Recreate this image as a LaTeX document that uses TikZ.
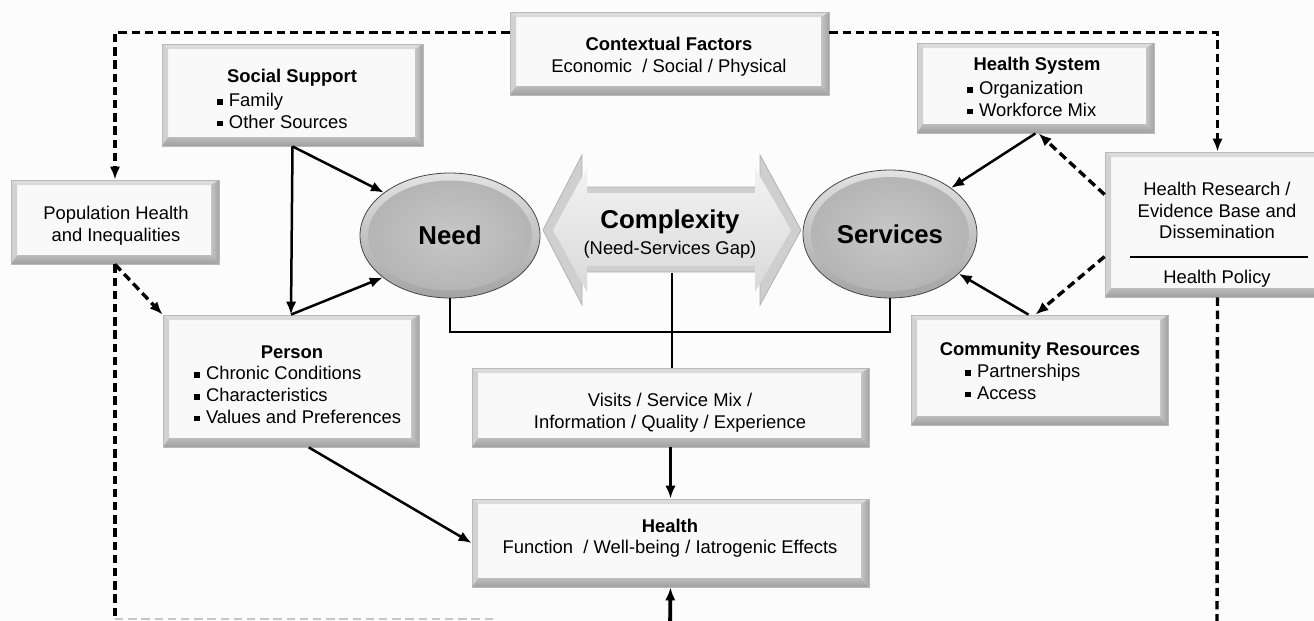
\documentclass[tikz,border=0pt]{standalone}
\usepackage{fontspec}
\setmainfont{Liberation Sans}
\usetikzlibrary{arrows.meta,calc,shapes.geometric}

% small square bullet used in the lists
\newcommand\sqb{\rule[1pt]{2.8pt}{2.8pt}\hspace{3pt}}

% bevelled panel given by its corners (in px): name, x1, y1, x2, y2
\newcommand\bevelbox[5]{%
  \pgfmathsetmacro\panelW{(#4-#2)*0.5}%
  \pgfmathsetmacro\panelH{(#5-#3)*0.5}%
  \node[panel, minimum width=\panelW pt, minimum height=\panelH pt]
    (#1) at ({(#2+#4)/2},{(#3+#5)/2}) {};%
}

\begin{document}
\begin{tikzpicture}[x=0.5pt,y=-0.5pt,
  txt/.style={font=\fontsize{9.2pt}{10.8pt}\selectfont, inner sep=0pt},
  ttl/.style={font=\fontsize{9.2pt}{10.8pt}\selectfont\bfseries, inner sep=0pt},
  big/.style={font=\fontsize{12.9pt}{14pt}\selectfont\bfseries, inner sep=0pt},
  panel/.style={draw=gray!55, line width=0.4pt, fill=gray!5, inner sep=0pt,
    path picture={
      \path (path picture bounding box.north west) coordinate (q1)
            (path picture bounding box.north east) coordinate (q2)
            (path picture bounding box.south east) coordinate (q3)
            (path picture bounding box.south west) coordinate (q4);
      \path ([shift={(3pt,-2.5pt)}]q1) coordinate (r1)
            ([shift={(-4pt,-2.5pt)}]q2) coordinate (r2)
            ([shift={(-4pt,4.5pt)}]q3) coordinate (r3)
            ([shift={(3pt,4.5pt)}]q4) coordinate (r4);
      \fill[gray!28] (q1)--(q2)--(r2)--(r1)--cycle;
      \fill[gray!36] (q1)--(r1)--(r4)--(q4)--cycle;
      \shade[left color=gray!45, right color=gray!72] (q2)--(q3)--(r3)--(r2)--cycle;
      \shade[top color=gray!52, bottom color=gray!75] (q4)--(r4)--(r3)--(q3)--cycle;
    }},
  orb/.style={ellipse, draw=gray!55!black, line width=0.4pt, inner sep=0pt,
    top color=gray!22, bottom color=gray!72,
    font=\fontsize{12.9pt}{14pt}\selectfont\bfseries},
  link/.style={line width=1.25pt, draw=black},
  dlink/.style={line width=1.7pt, draw=black, dash pattern=on 4.2pt off 2.4pt},
  arr/.style={-{Latex[length=6.5pt,width=5.2pt]}}
]
\useasboundingbox (0,0) rectangle (1314,621);
\clip (0,0) rectangle (1314,621);
\fill[gray!2] (0,0) rectangle (1314,621);

% ---------- panels ----------
\bevelbox{ctx}{510}{12}{829}{95}
\node[ttl] (ctxT) at (669,44) {Contextual Factors};
\node[txt] (ctxS) at (669,68) {Economic~~/ Social / Physical};

\bevelbox{soc}{162}{44}{423}{146}
\node[ttl] (socT) at (292,78) {Social Support};
\node[txt, align=left, anchor=west] (socL) at (217,111) {\sqb Family\\\sqb Other Sources};

\bevelbox{hs}{917}{43}{1154}{133}
\node[ttl] (hsT) at (1037,66) {Health System};
\node[txt, align=left, anchor=west] (hsL) at (967,99) {\sqb Organization\\\sqb Workforce Mix};

\bevelbox{pop}{11}{180}{219}{264}
\node[txt, align=center] (popT) at (116,225.5) {Population Health\\and Inequalities};

\bevelbox{hr}{1105}{152}{1330}{297}
\node[txt, align=center] (hrT) at (1217,210.5) {Health Research /\\Evidence Base and\\Dissemination};
\draw[line width=1pt] (1130,257) -- (1308,257);
\node[txt] (hrP) at (1217,279) {Health Policy};

\bevelbox{person}{163}{315}{419}{447}
\node[ttl] (personT) at (292,352) {Person};
\node[txt, align=left, anchor=west] (personL) at (194,395) {\sqb Chronic Conditions\\\sqb Characteristics\\\sqb Values and Preferences};

\bevelbox{visits}{472}{368}{869}{447}
\node[txt, align=center] (visitsT) at (670,413) {Visits / Service Mix /\\Information / Quality / Experience};

\bevelbox{health}{472}{499}{869}{587}
\node[ttl] (healthT) at (670,526) {Health};
\node[txt] (healthS) at (670,549) {Function~~/ Well-being / Iatrogenic Effects};

\bevelbox{comm}{911}{315}{1168}{425}
\node[ttl] (commT) at (1040,351) {Community Resources};
\node[txt, align=left, anchor=west] (commL) at (965,382) {\sqb Partnerships\\\sqb Access};

% ---------- need and services ----------
\node[orb, minimum width=90pt, minimum height=62.5pt,
  path picture={\shade[inner color=gray!44, outer color=gray!60]
    (path picture bounding box.center) ellipse [x radius=41pt, y radius=27.5pt];}]
  (need) at (450,235.5) {Need};
\node[orb, minimum width=87pt, minimum height=64pt,
  path picture={\shade[inner color=gray!44, outer color=gray!60]
    (path picture bounding box.center) ellipse [x radius=39.5pt, y radius=28.5pt];}]
  (serv) at (890,234) {Services};

% ---------- complexity double arrow ----------
\filldraw[fill=gray!38, draw=gray!60, line width=0.4pt]
  (543,230) -- (582,155) -- (582,187) -- (760,187) -- (760,155) -- (801,230)
  -- (760,305) -- (760,272) -- (582,272) -- (582,305) -- cycle;
\shade[top color=gray!10, bottom color=gray!30]
  (553,230) -- (587,168) -- (587,193) -- (755,193) -- (755,168) -- (791,230)
  -- (755,292) -- (755,266) -- (587,266) -- (587,292) -- cycle;
\node[minimum width=129pt, minimum height=42.5pt, inner sep=0pt] (cplx) at (672,230) {};
\node[big] (cplxT) at (670,222) {Complexity};
\node[txt] (cplxS) at (670,250) {(Need-Services Gap)};

% ---------- solid connectors ----------
\draw[link, arr] (soc.south) -- (person.north);
\draw[link, arr] (soc.south) -- (need.147);
\draw[link, arr] (person.north) -- (need.212);
\coordinate (bar) at (670,332);
\draw[link] (need.south) |- (bar) -| (serv.south);
\draw[link] (cplx.south) -- (cplx.south |- visits.north);
\draw[link, arr] (visits.south) -- (health.north);
\draw[link, arr] (person.-75) -- (health.west);
\coordinate (hIn) at (670,630);
\draw[link, line width=1.9pt, arr] (hIn) -- (health.south);
\draw[link, arr] (hs.south) -- (serv.37);
\draw[link, arr] ($(comm.north)+(-11,0)$) -- (serv.-30);

% ---------- dashed connectors ----------
\coordinate (ctxL) at ($(ctx.north west)+(0,21)$);
\coordinate (ctxR) at ($(ctx.north east)+(0,21)$);
\draw[dlink, arr] (ctxL) -| (pop.north);
\draw[dlink, arr] (ctxR) -| (hr.north);
\draw[dlink, arr] ($(hr.north west)+(0,43)$) -- ([xshift=1.5pt]hs.south);
\draw[dlink, arr] ($(hr.north west)+(0,105)$) -- ([xshift=-2pt]comm.north);
\draw[dlink, arr] (pop.south) -- (person.north west);
\coordinate (popFoot) at (115,619);
\coordinate (popEnd) at (497,619);
\draw[dlink] (pop.south) -- (popFoot);
\draw[dlink, draw=gray!45, line width=0.9pt] (popFoot) -- (popEnd);
\coordinate (hrFoot) at (1217,630);
\draw[dlink] (hr.south) -- (hrFoot);
\end{tikzpicture}
\end{document}
